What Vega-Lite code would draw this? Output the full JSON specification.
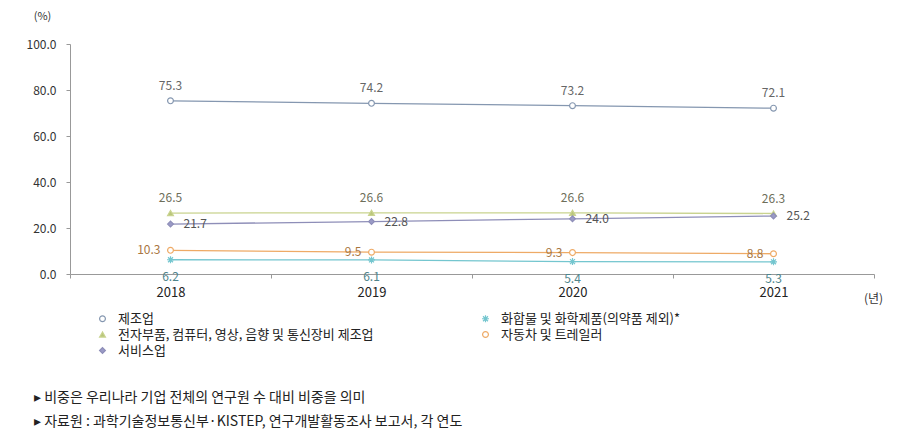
{
  "$schema": "https://vega.github.io/schema/vega-lite/v6.json",
  "autosize": {"type": "none"},
  "width": 804,
  "height": 230,
  "padding": {"left": 70, "top": 44, "right": 23, "bottom": 168},
  "background": "white",
  "config": {
    "font": "Noto Sans CJK KR",
    "view": {"stroke": null}
  },
  "title": {
    "text": ["▸ 비중은 우리나라 기업 전체의 연구원 수 대비 비중을 의미", "▸ 자료원 : 과학기술정보통신부·KISTEP, 연구개발활동조사 보고서, 각 연도"],
    "orient": "bottom",
    "anchor": "start",
    "frame": "group",
    "dx": -36,
    "offset": 33,
    "fontSize": 14,
    "fontWeight": "normal",
    "color": "#222",
    "lineHeight": 24,
    "font": "Noto Sans CJK KR"
  },
  "data": {
    "values": [
      {"year": "2018", "series": "제조업", "value": 75.3},
      {"year": "2019", "series": "제조업", "value": 74.2},
      {"year": "2020", "series": "제조업", "value": 73.2},
      {"year": "2021", "series": "제조업", "value": 72.1},
      {"year": "2018", "series": "전자부품, 컴퓨터, 영상, 음향 및 통신장비 제조업", "value": 26.5},
      {"year": "2019", "series": "전자부품, 컴퓨터, 영상, 음향 및 통신장비 제조업", "value": 26.6},
      {"year": "2020", "series": "전자부품, 컴퓨터, 영상, 음향 및 통신장비 제조업", "value": 26.6},
      {"year": "2021", "series": "전자부품, 컴퓨터, 영상, 음향 및 통신장비 제조업", "value": 26.3},
      {"year": "2018", "series": "서비스업", "value": 21.7},
      {"year": "2019", "series": "서비스업", "value": 22.8},
      {"year": "2020", "series": "서비스업", "value": 24.0},
      {"year": "2021", "series": "서비스업", "value": 25.2},
      {"year": "2018", "series": "자동차 및 트레일러", "value": 10.3},
      {"year": "2019", "series": "자동차 및 트레일러", "value": 9.5},
      {"year": "2020", "series": "자동차 및 트레일러", "value": 9.3},
      {"year": "2021", "series": "자동차 및 트레일러", "value": 8.8},
      {"year": "2018", "series": "화합물 및 화학제품(의약품 제외)*", "value": 6.2},
      {"year": "2019", "series": "화합물 및 화학제품(의약품 제외)*", "value": 6.1},
      {"year": "2020", "series": "화합물 및 화학제품(의약품 제외)*", "value": 5.4},
      {"year": "2021", "series": "화합물 및 화학제품(의약품 제외)*", "value": 5.3}
    ]
  },
  "encoding": {
    "x": {
      "field": "year", "type": "ordinal", "bandPosition": 0.5,
      "scale": {"type": "band", "paddingInner": 0, "paddingOuter": 0},
      "axis": {
        "title": "(년)", "titleX": 803, "titleY": 24, "titleAlign": "center", "titleBaseline": "middle",
        "titleFontSize": 12, "titleFontWeight": "normal", "titleColor": "#333",
        "labelAngle": 0, "labelFontSize": 13, "labelColor": "#222", "labelPadding": 8,
        "tickBand": "extent", "tickSize": 4, "tickColor": "#999", "domainColor": "#999", "grid": false
      }
    },
    "y": {
      "field": "value", "type": "quantitative",
      "scale": {"domain": [0, 100], "nice": false},
      "axis": {
        "values": [0, 20, 40, 60, 80, 100], "format": ".1f",
        "title": "(%)", "titleAngle": 0, "titleX": -28, "titleY": -28, "titleAlign": "center", "titleBaseline": "middle",
        "titleFontSize": 11, "titleFontWeight": "normal", "titleColor": "#333",
        "labelFontSize": 12, "labelColor": "#333", "labelPadding": 10,
        "tickSize": 4, "tickColor": "#999", "domainColor": "#999", "grid": false
      }
    }
  },
  "layer": [
    {
      "mark": {"type": "line", "strokeWidth": 1.3},
      "encoding": {
        "color": {
          "field": "series", "type": "nominal",
          "scale": {
            "domain": ["제조업", "전자부품, 컴퓨터, 영상, 음향 및 통신장비 제조업", "서비스업", "화합물 및 화학제품(의약품 제외)*", "자동차 및 트레일러"],
            "range": ["#8597b0", "#c9d38f", "#8e8eb8", "#74c6cf", "#eeaa66"]
          },
          "legend": {
            "orient": "none", "legendX": 26, "legendY": 268, "columns": 2, "columnPadding": 105,
            "title": null, "labelFontSize": 13, "labelColor": "#222", "symbolSize": 34, "symbolStrokeWidth": 1.2,
            "rowPadding": 2, "labelOffset": 9, "labelLimit": 400,
            "labelExpr": "indexof(datum.label,'전자')==0 ? '\u00a0\u00a0' + datum.label : datum.label"
          }
        }
      }
    },
    {
      "mark": {"type": "point", "size": 34, "strokeWidth": 1.2, "opacity": 1},
      "encoding": {
        "color": {"field": "series", "type": "nominal"},
        "fill": {
          "field": "series", "type": "nominal",
          "scale": {
            "domain": ["제조업", "전자부품, 컴퓨터, 영상, 음향 및 통신장비 제조업", "서비스업", "화합물 및 화학제품(의약품 제외)*", "자동차 및 트레일러"],
            "range": ["white", "#b9c67a", "#9a9ac6", "#74c6cf", "white"]
          }
        },
        "shape": {
          "field": "series", "type": "nominal",
          "scale": {
            "domain": ["제조업", "전자부품, 컴퓨터, 영상, 음향 및 통신장비 제조업", "서비스업", "화합물 및 화학제품(의약품 제외)*", "자동차 및 트레일러"],
            "range": ["circle", "triangle-up", "diamond", "M-1.2,0H1.2M0,-1.2V1.2M-0.85,-0.85L0.85,0.85M-0.85,0.85L0.85,-0.85", "circle"]
          }
        }
      }
    },
    {
      "transform": [{"filter": "datum.series == '제조업'"}],
      "mark": {"type": "text", "dy": -15, "fontSize": 12, "color": "#666"},
      "encoding": {"text": {"field": "value", "type": "quantitative", "format": ".1f"}}
    },
    {
      "transform": [{"filter": "indexof(datum.series, '전자부품') == 0"}],
      "mark": {"type": "text", "dy": -15, "fontSize": 12, "color": "#6e6e5a"},
      "encoding": {"text": {"field": "value", "type": "quantitative", "format": ".1f"}}
    },
    {
      "transform": [{"filter": "datum.series == '서비스업'"}],
      "mark": {"type": "text", "dx": 13, "align": "left", "fontSize": 12, "color": "#555"},
      "encoding": {"text": {"field": "value", "type": "quantitative", "format": ".1f"}}
    },
    {
      "transform": [{"filter": "datum.series == '자동차 및 트레일러'"}],
      "mark": {"type": "text", "dx": -10, "align": "right", "fontSize": 12, "color": "#a9763f"},
      "encoding": {"text": {"field": "value", "type": "quantitative", "format": ".1f"}}
    },
    {
      "transform": [{"filter": "indexof(datum.series, '화합물') == 0"}],
      "mark": {"type": "text", "dy": 17, "fontSize": 12, "color": "#4f858c"},
      "encoding": {"text": {"field": "value", "type": "quantitative", "format": ".1f"}}
    }
  ]
}
